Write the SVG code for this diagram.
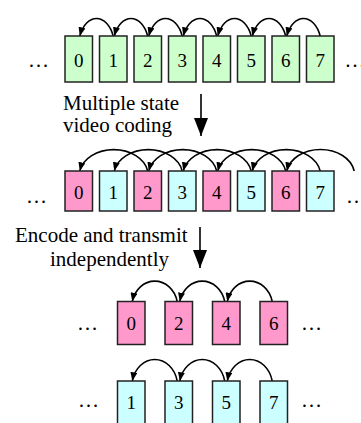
<svg xmlns="http://www.w3.org/2000/svg" width="361" height="423" viewBox="0 0 361 423" font-family="'Liberation Serif', 'Times New Roman', 'DejaVu Serif', serif">
<style>
text{font-family:'Liberation Serif','Times New Roman','DejaVu Serif',serif;fill:#000}
.d{font-size:19px;text-anchor:middle}
.l{font-size:21px}
.e{font-size:21px}
rect{stroke:#222;stroke-width:1.5}
.g{fill:#ccffcc}.p{fill:#ff99cc}.c{fill:#ccffff}
.a{fill:none;stroke:#000;stroke-width:1.6;marker-end:url(#sm)}
.v{fill:none;stroke:#000;stroke-width:1.6;marker-end:url(#bm)}
</style>
<defs>
<marker id="sm" viewBox="0 0 10 8" refX="10" refY="4" markerWidth="9" markerHeight="7" markerUnits="userSpaceOnUse" orient="auto"><path d="M0,0 L10,4 L0,8 z" fill="#000"/></marker>
<marker id="bm" viewBox="0 0 18 14" refX="18" refY="7" markerWidth="18" markerHeight="14" markerUnits="userSpaceOnUse" orient="auto"><path d="M0,0 L18,7 L0,14 z" fill="#000"/></marker>
</defs>
<g id="connectors">
<path class="a" d="M113.2,36 A18 28 0 0 0 79.8,36"/>
<path class="a" d="M147.7,36 A18 28 0 0 0 114.3,36"/>
<path class="a" d="M182.2,36 A18 28 0 0 0 148.8,36"/>
<path class="a" d="M216.7,36 A18 28 0 0 0 183.3,36"/>
<path class="a" d="M251.2,36 A18 28 0 0 0 217.8,36"/>
<path class="a" d="M285.7,36 A18 28 0 0 0 252.3,36"/>
<path class="a" d="M320.2,36 A18 28 0 0 0 286.8,36"/>
<path class="a" d="M147.7,171 A34.5 26 0 0 0 79.8,171"/>
<path class="a" d="M182.2,171 A34.5 26 0 0 0 114.3,171"/>
<path class="a" d="M216.7,171 A34.5 26 0 0 0 148.8,171"/>
<path class="a" d="M251.2,171 A34.5 26 0 0 0 183.3,171"/>
<path class="a" d="M285.7,171 A34.5 26 0 0 0 217.8,171"/>
<path class="a" d="M320.2,171 A34.5 26 0 0 0 252.3,171"/>
<path class="a" d="M354.2,171 A34.2 26 0 0 0 286.8,171"/>
<path class="a" d="M177.2,301.5 A23 26 0 0 0 132.3,301.5"/>
<path class="a" d="M224.7,301.5 A23 26 0 0 0 179.8,301.5"/>
<path class="a" d="M272.2,301.5 A23 26 0 0 0 227.3,301.5"/>
<path class="a" d="M177.2,381 A23 27.5 0 0 0 132.3,381"/>
<path class="a" d="M224.7,381 A23 27.5 0 0 0 179.8,381"/>
<path class="a" d="M272.2,381 A23 27.5 0 0 0 227.3,381"/>
<path class="v" d="M201,94 L201,136"/>
<path class="v" d="M200,227 L200,268"/>
</g>
<g id="row1">
<g id="a0"><rect class="g" x="65" y="36" width="27.5" height="46"/><text class="d" x="78.75" y="67">0</text></g>
<g id="a1"><rect class="g" x="99.5" y="36" width="27.5" height="46"/><text class="d" x="113.25" y="67">1</text></g>
<g id="a2"><rect class="g" x="134" y="36" width="27.5" height="46"/><text class="d" x="147.75" y="67">2</text></g>
<g id="a3"><rect class="g" x="168.5" y="36" width="27.5" height="46"/><text class="d" x="182.25" y="67">3</text></g>
<g id="a4"><rect class="g" x="203" y="36" width="27.5" height="46"/><text class="d" x="216.75" y="67">4</text></g>
<g id="a5"><rect class="g" x="237.5" y="36" width="27.5" height="46"/><text class="d" x="251.25" y="67">5</text></g>
<g id="a6"><rect class="g" x="272" y="36" width="27.5" height="46"/><text class="d" x="285.75" y="67">6</text></g>
<g id="a7"><rect class="g" x="306.5" y="36" width="27.5" height="46"/><text class="d" x="320.25" y="67">7</text></g>
<text class="e" x="28" y="67">…</text>
<text class="e" x="344.5" y="67">…</text>
</g>
<g id="row2">
<g id="b0"><rect class="p" x="65" y="171" width="27.5" height="40"/><text class="d" x="78.75" y="199">0</text></g>
<g id="b1"><rect class="c" x="99.5" y="171" width="27.5" height="40"/><text class="d" x="113.25" y="199">1</text></g>
<g id="b2"><rect class="p" x="134" y="171" width="27.5" height="40"/><text class="d" x="147.75" y="199">2</text></g>
<g id="b3"><rect class="c" x="168.5" y="171" width="27.5" height="40"/><text class="d" x="182.25" y="199">3</text></g>
<g id="b4"><rect class="p" x="203" y="171" width="27.5" height="40"/><text class="d" x="216.75" y="199">4</text></g>
<g id="b5"><rect class="c" x="237.5" y="171" width="27.5" height="40"/><text class="d" x="251.25" y="199">5</text></g>
<g id="b6"><rect class="p" x="272" y="171" width="27.5" height="40"/><text class="d" x="285.75" y="199">6</text></g>
<g id="b7"><rect class="c" x="306.5" y="171" width="27.5" height="40"/><text class="d" x="320.25" y="199">7</text></g>
<text class="e" x="26" y="203">…</text>
<text class="e" x="346" y="203">…</text>
</g>
<g id="row3">
<g id="c0"><rect class="p" x="117.5" y="301.5" width="27.5" height="43"/><text class="d" x="131.25" y="330">0</text></g>
<g id="c2"><rect class="p" x="165" y="301.5" width="27.5" height="43"/><text class="d" x="178.75" y="330">2</text></g>
<g id="c4"><rect class="p" x="212.5" y="301.5" width="27.5" height="43"/><text class="d" x="226.25" y="330">4</text></g>
<g id="c6"><rect class="p" x="260" y="301.5" width="27.5" height="43"/><text class="d" x="273.75" y="330">6</text></g>
<text class="e" x="77" y="330">…</text>
<text class="e" x="301" y="330">…</text>
</g>
<g id="row4">
<g id="d1"><rect class="c" x="117.5" y="381" width="27.5" height="50"/><text class="d" x="131.25" y="408.5">1</text></g>
<g id="d3"><rect class="c" x="165" y="381" width="27.5" height="50"/><text class="d" x="178.75" y="408.5">3</text></g>
<g id="d5"><rect class="c" x="212.5" y="381" width="27.5" height="50"/><text class="d" x="226.25" y="408.5">5</text></g>
<g id="d7"><rect class="c" x="260" y="381" width="27.5" height="50"/><text class="d" x="273.75" y="408.5">7</text></g>
<text class="e" x="78" y="407">…</text>
<text class="e" x="301" y="407">…</text>
</g>
<g id="labels">
<text class="l" x="63" y="110">Multiple state</text>
<text class="l" x="63" y="132">video coding</text>
<text class="l" x="15" y="242">Encode and transmit</text>
<text class="l" x="50" y="266">independently</text>
</g>
</svg>
